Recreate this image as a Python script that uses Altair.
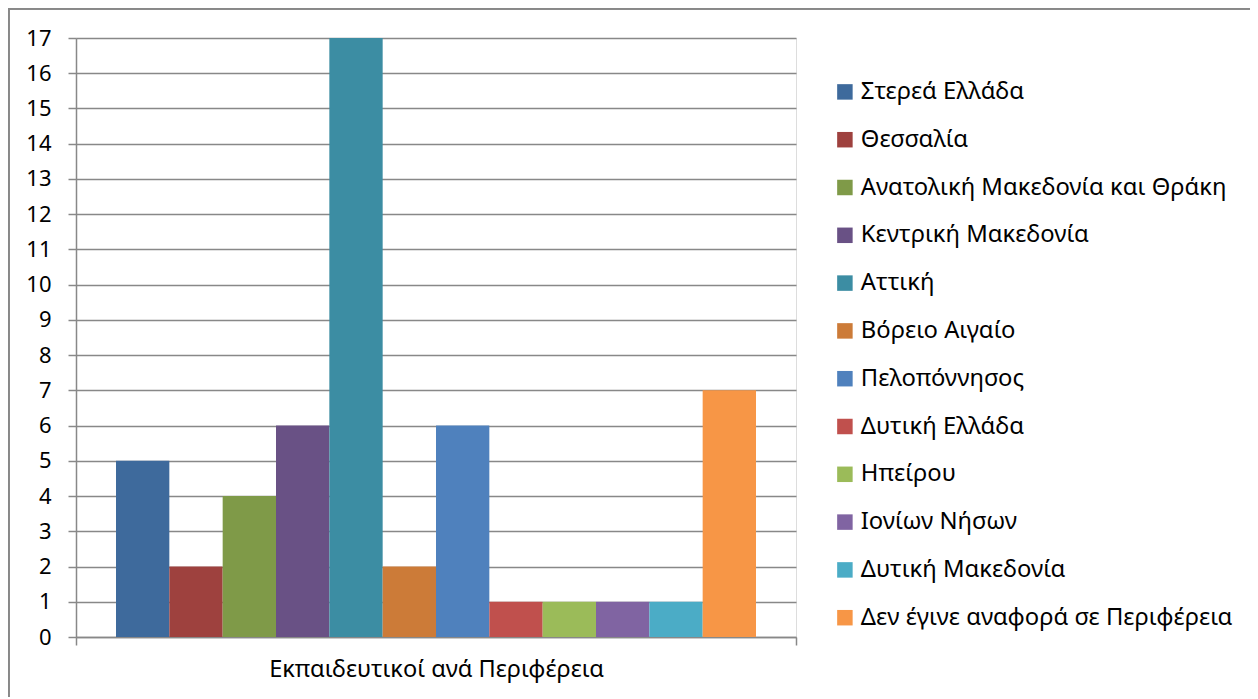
import altair as alt
import pandas as pd

category = "Εκπαιδευτικοί ανά Περιφέρεια"
regions = [
    "Στερεά Ελλάδα",
    "Θεσσαλία",
    "Ανατολική Μακεδονία και Θράκη",
    "Κεντρική Μακεδονία",
    "Αττική",
    "Βόρειο Αιγαίο",
    "Πελοπόννησος",
    "Δυτική Ελλάδα",
    "Ηπείρου",
    "Ιονίων Νήσων",
    "Δυτική Μακεδονία",
    "Δεν έγινε αναφορά σε Περιφέρεια",
]
values = [5, 2, 4, 6, 17, 2, 6, 1, 1, 1, 1, 7]
colors = [
    "#3E6A9C", "#9E413E", "#7F9A48", "#695185", "#3C8DA3", "#CC7B38",
    "#4F81BD", "#C0504D", "#9BBB59", "#8064A2", "#4BACC6", "#F79646",
]
y_ticks = list(range(0, 18))

df = pd.DataFrame({"cat": [category] * len(regions), "region": regions, "value": values})

FONT = "Noto Sans"
W, H = 720, 599
PL, PT = 68, 30

bars = alt.Chart(df).mark_bar(opacity=1).encode(
    x=alt.X("cat:N", title=None,
            scale=alt.Scale(paddingInner=0, paddingOuter=0),
            axis=alt.Axis(labelAngle=0, tickBand="extent", tickSize=8, tickColor="#888888",
                          tickWidth=1.5, domainColor="#888888", domainWidth=1.5,
                          labelFontSize=23.6, labelFont=FONT, labelColor="#000000",
                          labelLimit=800, labelPadding=12, grid=False)),
    xOffset=alt.XOffset("region:N", sort=regions,
                        scale=alt.Scale(paddingInner=0, paddingOuter=0.75)),
    y=alt.Y("value:Q", title=None,
            scale=alt.Scale(domain=[0, 17], nice=False),
            axis=alt.Axis(values=y_ticks, tickSize=8, tickColor="#888888", tickWidth=1.5,
                          domainColor="#888888", domainWidth=1.5,
                          gridColor="#888888", gridWidth=1.5,
                          labelFontSize=22, labelFont=FONT, labelColor="#000000",
                          labelPadding=17)),
    color=alt.Color("region:N", sort=regions,
                    scale=alt.Scale(domain=regions, range=colors),
                    legend=alt.Legend(title=None, orient="none", legendX=757,
                                      legendY=42,
                                      symbolType="square", symbolSize=240,
                                      symbolStrokeWidth=0, symbolOpacity=1,
                                      symbolLimit=50,
                                      labelFont=FONT, labelFontSize=23.8, labelColor="#000000",
                                      labelLimit=600, rowPadding=22.8, labelOffset=4)),
)

frame_top = alt.Chart(df).mark_rule(stroke="#888888", strokeWidth=1.5, clip=False).encode(
    x=alt.value(-PL + 0.5), x2=alt.value(W + 600), y=alt.value(-PT + 0.5),
)
frame_left = alt.Chart(df).mark_rule(stroke="#888888", strokeWidth=1.5, clip=False).encode(
    x=alt.value(-PL + 0.5), y=alt.value(-PT + 0.5), y2=alt.value(H + 300),
)

chart = alt.layer(bars, frame_top, frame_left).properties(
    width=W, height=H,
    padding={"left": PL, "top": PT, "right": 454, "bottom": 60},
    autosize=alt.AutoSizeParams(type="none"),
).configure_view(stroke=None).configure(background="white")

chart.save("out.html", embed_options={"renderer": "svg", "actions": False})
